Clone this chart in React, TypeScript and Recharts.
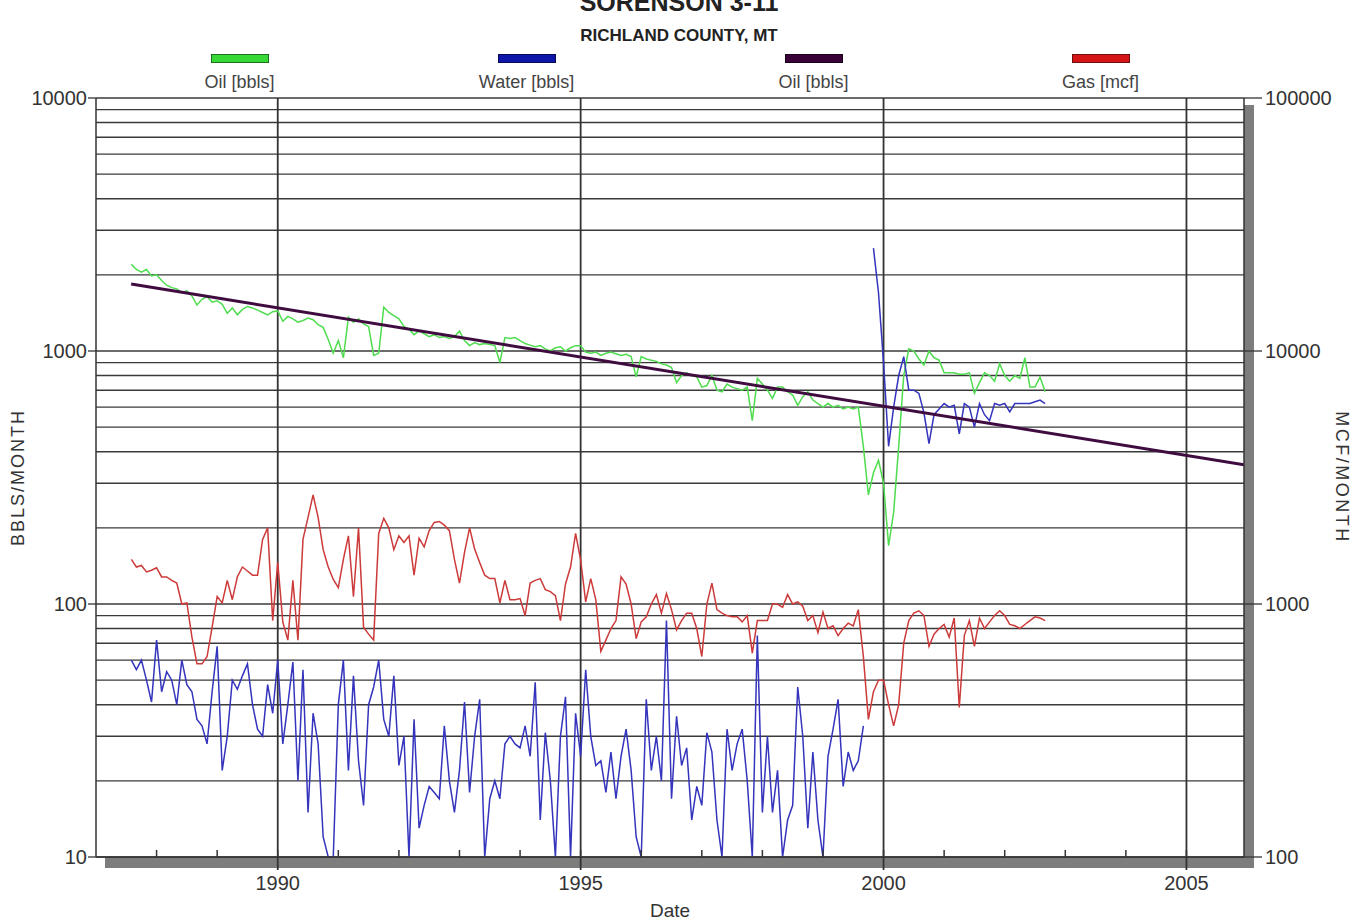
import React from 'react';
import { LineChart, Line, XAxis, YAxis, CartesianGrid, ReferenceLine, Legend, Label } from 'recharts';

// monthly production, Aug 1987 .. Sep 2002 (one row per calendar year)
const START_YEAR = 1987;
const START_MONTH = 7; // August, 0-based

const oilBbls = [
  2200, 2100, 2050, 2100, 1980,
  2000, 1900, 1820, 1780, 1760, 1700, 1730, 1650, 1520, 1600, 1640, 1560,
  1580, 1530, 1410, 1480, 1390, 1460, 1500, 1480, 1450, 1420, 1390, 1430,
  1440, 1310, 1370, 1340, 1300, 1320, 1350, 1330, 1270, 1240, 1110, 980,
  1100, 940, 1360, 1300, 1340, 1280, 1250, 960, 980, 1490, 1420, 1380,
  1340, 1250, 1220, 1160, 1200, 1170, 1140, 1160, 1130, 1140, 1120, 1140,
  1200, 1100, 1050, 1080, 1060, 1070, 1060, 1050, 900, 1130, 1120, 1130,
  1100, 1070, 1055, 1040, 1050, 1020, 1000, 1030, 1040, 1000, 1030, 1050,
  1050, 990, 980, 990, 960, 980, 990, 975, 960, 970, 950, 790,
  950, 930, 920, 910, 890, 880, 860, 750, 800, 820, 800, 790,
  720, 730, 800, 700, 690, 740, 720, 710, 700, 720, 530, 780,
  740, 700, 650, 720, 720, 690, 670, 610, 660, 690, 640, 620,
  600, 620, 600, 610, 590, 600, 590, 600, 420, 270, 330, 370,
  300, 170, 230, 420, 800, 1020, 1000, 930, 880, 1000, 940, 920,
  820, 820, 820, 810, 810, 820, 680, 750, 820, 800, 760, 890,
  800, 760, 800, 780, 940, 720, 720, 790, 690,
];

const waterBbls: (number | null)[] = [
  60, 55, 60, 50, 41,
  72, 45, 54, 50, 40, 60, 48, 45, 35, 33, 28, 45,
  68, 22, 30, 50, 46, 52, 58, 40, 32, 30, 48, 37,
  60, 28, 40, 59, 20, 55, 15, 37, 28, 12, 10, 10,
  40, 60, 22, 52, 24, 16, 40, 47, 60, 35, 30, 52,
  23, 30, 10, 35, 13, 16, 19, 18, 17, 33, 20, 15,
  22, 41, 18, 30, 42, 10, 17, 20, 17, 28, 30, 28,
  27, 33, 25, 49, 14, 31, 20, 10, 30, 43, 10, 37,
  25, 55, 30, 23, 24, 18, 26, 17, 25, 32, 22, 12,
  10, 42, 22, 30, 20, 86, 17, 36, 23, 27, 14, 19,
  16, 31, 26, 14, 10, 32, 22, 28, 32, 20, 10, 75,
  15, 30, 15, 22, 10, 14, 16, 47, 30, 13, 26, 14,
  10, 25, 32, 42, 19, 26, 22, 24, 33, null, 2550, 1700,
  900, 420, 600, 800, 950, 700, 700, 680, 570, 430, 560, 590,
  620, 600, 610, 470, 620, 600, 500, 620, 560, 530, 620, 610,
  620, 575, 620, 620, 620, 620, 630, 640, 620,
];

const gasMcf = [
  1500, 1400, 1420, 1340, 1360,
  1390, 1280, 1280, 1240, 1210, 1000, 1010, 740, 580, 580, 620, 810,
  1070, 1010, 1240, 1040, 1280, 1400, 1350, 1300, 1300, 1800, 2000, 860,
  1460, 850, 720, 1240, 720, 1800, 2200, 2700, 2200, 1640, 1400, 1250,
  1160, 1500, 1860, 1070, 2000, 810, 760, 720, 1900, 2180, 2000, 1640,
  1860, 1750, 1860, 1300, 1820, 1680, 1950, 2100, 2120, 2050, 1950, 1500,
  1210, 1600, 2000, 1650, 1460, 1300, 1260, 1260, 1010, 1240, 1040, 1040,
  1050, 900, 1210, 1240, 1260, 1140, 1120, 1080, 860, 1200, 1400, 1900,
  1490, 1020, 1260, 1040, 650, 720, 800, 860, 1280, 1200, 1000, 730,
  850, 890, 1000, 1090, 920, 1100, 950, 790, 860, 920, 920, 800,
  620, 1000, 1210, 950, 920, 900, 890, 890, 850, 900, 640, 860,
  860, 860, 1000, 1000, 970, 1090, 1000, 1020, 980, 860, 900, 770,
  930, 800, 820, 750, 800, 840, 820, 950, 620, 350, 450, 500,
  500, 400, 330, 400, 700, 860, 920, 940, 900, 680, 760, 800,
  830, 740, 880, 390, 750, 860, 680, 880, 800, 850, 900, 940,
  900, 830, 820, 800, 830, 860, 890, 880, 860,
];

// fitted oil decline (straight on the log scale), read at its two ends
const declineYears = [1987.58, 2005.95];
const declineOil = [1840, 355];

const yearTicks = [1988, 1989, 1990, 1991, 1992, 1993, 1994, 1995, 1996, 1997, 1998, 1999, 2000, 2001, 2002, 2003, 2004, 2005];
const majorYears = [1990, 1995, 2000, 2005];
const bblTicks = [
  10, 20, 30, 40, 50, 60, 70, 80, 90,
  100, 200, 300, 400, 500, 600, 700, 800, 900,
  1000, 2000, 3000, 4000, 5000, 6000, 7000, 8000, 9000, 10000,
];
const bblLabels = [10, 100, 1000, 10000];
const mcfTicks = [100, 1000, 10000, 100000];

const series = [
  { key: 'oil', name: 'Oil [bbls]', line: '#4fdc4f', swatch: '#36d936', edge: '#1d6e1d' },
  { key: 'water', name: 'Water [bbls]', line: '#3434bc', swatch: '#0d16a8', edge: '#070b55' },
  { key: 'decline', name: 'Oil [bbls]', line: '#400c40', swatch: '#3a0038', edge: '#1a001a' },
  { key: 'gas', name: 'Gas [mcf]', line: '#cc3a3a', swatch: '#d51515', edge: '#6e1010' },
];

const data = oilBbls.map((oil, i) => ({
  t: START_YEAR + (START_MONTH + i) / 12,
  oil,
  water: waterBbls[i],
  gas: gasMcf[i],
}));
const declineData = declineYears.map((t, i) => ({ t, decline: declineOil[i] }));

const W = 1364;
const H = 922;
const PLOT_LEFT = 96;
const PLOT_RIGHT = 1244;
const PLOT_TOP = 98;
const PLOT_BOTTOM = 857;
const FONT = '"Liberation Sans", Arial, Helvetica, sans-serif';
const TEXT = '#333';

function YearTick(props: any) {
  const { x, y, payload } = props;
  const major = majorYears.includes(payload.value);
  return (
    <g>
      <line x1={x} x2={x} y1={y} y2={y - 7} stroke="#333" strokeWidth={1.5} />
      {major && <line x1={x} x2={x} y1={y} y2={y + 13} stroke="#333" strokeWidth={1.8} />}
      {major && (
        <text x={x} y={y + 33} textAnchor="middle" fontSize={20} fill={TEXT}>
          {payload.value}
        </text>
      )}
    </g>
  );
}

function BblTick(props: any) {
  const { x, y, payload } = props;
  if (!bblLabels.includes(payload.value)) return <g />;
  return (
    <g>
      <line x1={x - 8} x2={x} y1={y} y2={y} stroke="#333" strokeWidth={1.3} />
      <text x={x - 9} y={y} dy="0.36em" textAnchor="end" fontSize={20} fill={TEXT}>
        {payload.value}
      </text>
    </g>
  );
}

function McfTick(props: any) {
  const { x, y, payload } = props;
  return (
    <g>
      <line x1={x} x2={x + 18} y1={y} y2={y} stroke="#333" strokeWidth={1.3} />
      <text x={x + 21} y={y} dy="0.36em" textAnchor="start" fontSize={20} fill={TEXT}>
        {payload.value}
      </text>
    </g>
  );
}

function LegendBox() {
  return (
    <div style={{ display: 'flex', width: '100%' }}>
      {series.map((s, i) => (
        <div key={i} style={{ flex: 1, display: 'flex', flexDirection: 'column', alignItems: 'center' }}>
          <div
            style={{
              width: 56,
              height: 7,
              background: s.swatch,
              border: `1px solid ${s.edge}`,
            }}
          />
          <div style={{ marginTop: 9, fontSize: 18, lineHeight: '20px', color: '#444' }}>{s.name}</div>
        </div>
      ))}
    </div>
  );
}

export default function App() {
  return (
    <div
      style={{
        position: 'absolute',
        left: 0,
        top: 0,
        width: W,
        height: H,
        overflow: 'hidden',
        background: '#fff',
        fontFamily: FONT,
      }}
    >
      <div
        style={{
          position: 'absolute',
          top: -10,
          left: 0,
          width: 1358,
          textAlign: 'center',
          fontWeight: 'bold',
          fontSize: 25,
          lineHeight: '25px',
          color: '#222',
        }}
      >
        SORENSON 3-11
      </div>
      <div
        style={{
          position: 'absolute',
          top: 27,
          left: 0,
          width: 1358,
          textAlign: 'center',
          fontWeight: 'bold',
          fontSize: 17,
          lineHeight: '17px',
          color: '#222',
        }}
      >
        RICHLAND COUNTY, MT
      </div>

      {/* drop shadow of the plot frame */}
      <div
        style={{
          position: 'absolute',
          left: PLOT_RIGHT,
          top: PLOT_TOP + 7,
          width: 10,
          height: PLOT_BOTTOM - PLOT_TOP + 4,
          background: '#7d7d7d',
        }}
      />
      <div
        style={{
          position: 'absolute',
          left: PLOT_LEFT + 9,
          top: PLOT_BOTTOM,
          width: PLOT_RIGHT - PLOT_LEFT + 1,
          height: 11,
          background: '#7d7d7d',
        }}
      />

      <div style={{ position: 'absolute', left: 0, top: 0 }}>
        <LineChart
          width={W}
          height={H}
          data={data}
          margin={{ top: PLOT_TOP, right: 0, bottom: 0, left: 0 }}
        >
          <CartesianGrid yAxisId="bbl" vertical={false} stroke="#3a3a3a" strokeWidth={1.4} />
          <XAxis
            dataKey="t"
            type="number"
            domain={[1987.0, 2005.95]}
            ticks={yearTicks}
            interval={0}
            allowDataOverflow
            height={H - PLOT_BOTTOM}
            tickSize={0}
            tickMargin={0}
            tickLine={false}
            tick={<YearTick />}
            axisLine={{ stroke: '#333', strokeWidth: 1.5 }}
          >
            <Label value="Date" position="insideBottom" offset={5} fontSize={19} fill={TEXT} />
          </XAxis>
          <YAxis
            yAxisId="bbl"
            scale="log"
            domain={[10, 10000]}
            ticks={bblTicks}
            interval={0}
            allowDataOverflow
            width={PLOT_LEFT}
            tickSize={0}
            tickMargin={0}
            tickLine={false}
            tick={<BblTick />}
            axisLine={{ stroke: '#333', strokeWidth: 1.5 }}
          >
            <Label
              value="BBLS/MONTH"
              angle={-90}
              position="insideLeft"
              offset={18}
              textAnchor="middle"
              fontSize={18}
              fill={TEXT}
              style={{ letterSpacing: 2 }}
            />
          </YAxis>
          <YAxis
            yAxisId="mcf"
            orientation="right"
            scale="log"
            domain={[100, 100000]}
            ticks={mcfTicks}
            interval={0}
            allowDataOverflow
            width={W - PLOT_RIGHT}
            tickSize={0}
            tickMargin={0}
            tickLine={false}
            tick={<McfTick />}
            axisLine={{ stroke: '#333', strokeWidth: 1.5 }}
          >
            <Label
              value="MCF/MONTH"
              angle={90}
              position="insideRight"
              offset={22}
              textAnchor="middle"
              fontSize={18}
              fill={TEXT}
              style={{ letterSpacing: 2.5 }}
            />
          </YAxis>
          {majorYears.map((yr) => (
            <ReferenceLine key={yr} yAxisId="bbl" x={yr} stroke="#333" strokeWidth={1.8} />
          ))}
          <Legend
            verticalAlign="middle"
            align="center"
            layout="horizontal"
            wrapperStyle={{ top: 54, left: PLOT_LEFT, width: PLOT_RIGHT - PLOT_LEFT }}
            content={() => <LegendBox />}
          />
          <Line
            yAxisId="bbl"
            dataKey="oil"
            name="Oil [bbls]"
            type="linear"
            stroke={series[0].line}
            strokeWidth={1.5}
            dot={false}
            isAnimationActive={false}
          />
          <Line
            yAxisId="bbl"
            dataKey="water"
            name="Water [bbls]"
            type="linear"
            stroke={series[1].line}
            strokeWidth={1.5}
            dot={false}
            connectNulls={false}
            isAnimationActive={false}
          />
          <Line
            yAxisId="bbl"
            data={declineData}
            dataKey="decline"
            name="Oil [bbls]"
            type="linear"
            stroke={series[2].line}
            strokeWidth={3}
            dot={false}
            isAnimationActive={false}
          />
          <Line
            yAxisId="mcf"
            dataKey="gas"
            name="Gas [mcf]"
            type="linear"
            stroke={series[3].line}
            strokeWidth={1.5}
            dot={false}
            isAnimationActive={false}
          />
        </LineChart>
      </div>
    </div>
  );
}
